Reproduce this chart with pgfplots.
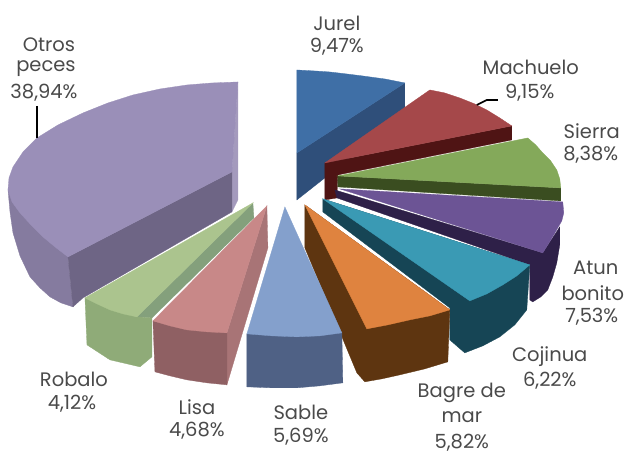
\documentclass[border=0pt]{standalone}
\usepackage{pgfplots}
\pgfplotsset{compat=1.18}
\usepackage{fontspec}
\setmainfont{Poppins}
\definecolor{txt}{HTML}{4A4A4A}
\definecolor{a1}{HTML}{3F6FA6}\definecolor{a2}{HTML}{2F4F7A}
\definecolor{b1}{HTML}{A5484A}\definecolor{b2}{HTML}{4F1414}
\definecolor{c1}{HTML}{84A95A}\definecolor{c2}{HTML}{3A4D20}
\definecolor{d1}{HTML}{6C5495}\definecolor{d2}{HTML}{2E2048}
\definecolor{e1}{HTML}{3A9AB4}\definecolor{e2}{HTML}{164555}
\definecolor{f1}{HTML}{DF833F}\definecolor{f2}{HTML}{5E3510}
\definecolor{g1}{HTML}{9A8FB8}\definecolor{g2}{HTML}{6E6585}\definecolor{g3}{HTML}{857B9F}\definecolor{g4}{HTML}{A49ABD}
\definecolor{h1}{HTML}{ABC48E}\definecolor{h2}{HTML}{8FAB78}\definecolor{h3}{HTML}{84A07C}
\definecolor{i1}{HTML}{C88888}\definecolor{i2}{HTML}{8F6063}\definecolor{i3}{HTML}{A87476}
\definecolor{j1}{HTML}{84A0CC}\definecolor{j2}{HTML}{4F6185}
\pgfplotsset{poly/.style={fill=#1,draw=#1,line width=0.3pt,mark=none}}
\tikzset{lab/.style={font=\fontsize{19.5}{20}\selectfont,text=txt,inner sep=0pt,anchor=center}}
\begin{document}
\begin{tikzpicture}
\begin{axis}[scale only axis,width=624pt,height=455pt,xmin=0,xmax=624,ymin=0,ymax=455,y dir=reverse,axis lines=none,clip=false]
\path (axis cs:0,0) rectangle (axis cs:624,455);
% Jurel
\addplot[poly=a2] coordinates {(297,153)(405,83)(405,115)(297,200)} -- cycle;
\addplot[poly=a1] coordinates {(297,70)(315,71)(330,72)(347,74)(363,76)(385,79)(405,83)(297,153)} -- cycle;
% Machuelo
\addplot[poly=b2] coordinates {(325,163)(512,126)(512,140)(338,175)(337,198)(325,200)} -- cycle;
\addplot[poly=b1] coordinates {(325,163)(430,90)(445,93)(460,98)(475,104)(487,110)(500,118)(512,126)} -- cycle;
% Sierra
\addplot[poly=c2] coordinates {(338,176)(561,188)(561,201)(338,187)} -- cycle;
\addplot[poly=c1] coordinates {(338,176)(528,138)(536,145)(543,153)(551,161)(557,170)(560,179)(561,188)} -- cycle;
% Atun bonito
\addplot[poly=d2] coordinates {(335,190)(543,253)(560,227)(560,245)(557,263)(553,277)(548,290)(541,297)(533,302)(530,300)(530,265)(337,198)} -- cycle;
\addplot[poly=d1] coordinates {(340,189)(563,202)(564,213)(562,221)(558,228)(551,240)(543,253)} -- cycle;
% Cojinua
\addplot[poly=e2] coordinates {(323,199)(530,265)(527,310)(515,325)(500,337)(483,346)(465,353)(458,347)(450,340)(450,308)(323,212)} -- cycle;
\addplot[poly=e1] coordinates {(323,199)(530,265)(517,276)(503,285)(487,294)(470,301)} -- cycle;
% Bagre de mar
\addplot[poly=f2] coordinates {(305,205)(450,310)(448,362)(425,369)(400,375)(382,379)(365,382)(357,373)(305,248)} -- cycle;
\addplot[poly=f1] coordinates {(305,205)(450,310)(430,316)(410,320)(388,325)(367,329)} -- cycle;
% Otros peces
\addplot[poly=g4] coordinates {(238,82)(238,200)(232,212)(232,172)} -- cycle;
\addplot[poly=g3] coordinates {(8,190)(10,212)(13,233)(20,256)(30,277)(40,288)(50,297)(61,303)(73,307)(68,257)} -- cycle;
\addplot[poly=g2] coordinates {(232,172)(68,257)(73,307)(83,298)(232,212)} -- cycle;
\addplot[poly=g1] coordinates {(238,82)(212,83)(187,85)(160,89)(133,95)(108,103)(83,113)(58,125)(37,138)(23,152)(13,167)(9,178)(8,190)(12,202)(20,213)(31,225)(43,237)(55,247)(68,257)(232,172)} -- cycle;
% Robalo
\addplot[poly=h3] coordinates {(253,203)(254,218)(152,318)(137,317)} -- cycle;
\addplot[poly=h2] coordinates {(85,298)(137,317)(152,318)(152,357)(140,367)(110,360)(87,345)} -- cycle;
\addplot[poly=h1] coordinates {(253,203)(137,317)(123,314)(110,310)(97,304)(85,298)} -- cycle;
% Lisa
\addplot[poly=i3] coordinates {(267,206)(268,248)(227,385)(227,333)} -- cycle;
\addplot[poly=i2] coordinates {(153,321)(227,333)(227,385)(207,383)(187,380)(170,376)(155,372)} -- cycle;
\addplot[poly=i1] coordinates {(267,206)(227,333)(207,332)(187,330)(170,326)(153,321)} -- cycle;
% Sable
\addplot[poly=j2] coordinates {(247,334)(342,333)(343,383)(320,386)(297,388)(272,388)(247,387)} -- cycle;
\addplot[poly=j1] coordinates {(285,207)(342,333)(320,336)(297,337)(272,336)(247,334)} -- cycle;
% leader lines
\addplot[black,line width=1.6pt,mark=none] coordinates {(477,105)(487,100)(498,100)};
\addplot[black,line width=2.4pt,mark=none] coordinates {(37,106)(37,138)};
% labels
\node[lab] at (axis cs:337,23) {Jurel};
\node[lab] at (axis cs:337,47) {9,47\%};
\node[lab] at (axis cs:531,67) {Machuelo};
\node[lab] at (axis cs:530,93) {9,15\%};
\node[lab] at (axis cs:592,131) {Sierra};
\node[lab] at (axis cs:591,155) {8,38\%};
\node[lab] at (axis cs:596,268) {Atun};
\node[lab] at (axis cs:593,293) {bonito};
\node[lab] at (axis cs:592,317) {7,53\%};
\node[lab] at (axis cs:550,357) {Cojinua};
\node[lab] at (axis cs:550,381) {6,22\%};
\node[lab] at (axis cs:462,393) {Bagre de};
\node[lab] at (axis cs:462,417) {mar};
\node[lab] at (axis cs:462,443) {5,82\%};
\node[lab] at (axis cs:301,413) {Sable};
\node[lab] at (axis cs:301,437) {5,69\%};
\node[lab] at (axis cs:197,407) {Lisa};
\node[lab] at (axis cs:197,431) {4,68\%};
\node[lab] at (axis cs:74,380) {Robalo};
\node[lab] at (axis cs:72,404) {4,12\%};
\node[lab] at (axis cs:49,45) {Otros};
\node[lab] at (axis cs:46,69) {peces};
\node[lab] at (axis cs:44,93) {38,94\%};
\end{axis}
\end{tikzpicture}
\end{document}
